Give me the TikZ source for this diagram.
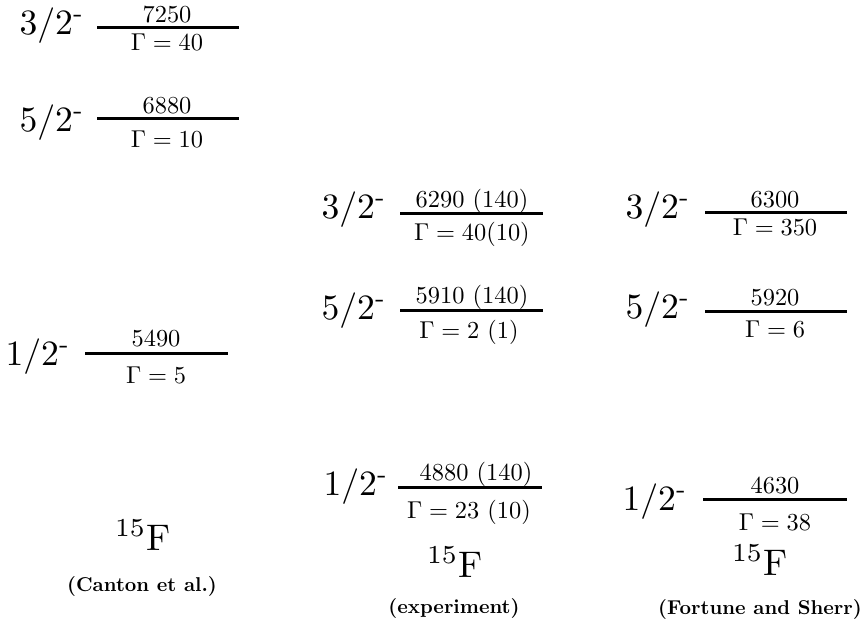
\documentclass[tikz,border=0pt]{standalone}
\newcommand{\spinlab}[1]{\scalebox{1.78}{$#1$\textsuperscript{\scriptsize -}}}
\newcommand{\vallab}[1]{\scalebox{1.22}{#1}}
\newcommand{\nuclab}{\scalebox{1.85}{$^{15}$F}}
\begin{document}
\begin{tikzpicture}[x=0.5pt,y=-0.5pt,
  lvl/.style={line width=1.5pt},
  jp/.style={inner sep=0pt, anchor=base},
  val/.style={inner sep=0pt, anchor=base},
  nuc/.style={inner sep=0pt, anchor=base},
  src/.style={font=\bfseries, inner sep=0pt, anchor=base}]
\useasboundingbox (0,0) rectangle (864,629);
% ---------- column 1 (Canton et al.)
\coordinate (a1l) at (97,27);  \coordinate (a1r) at (239,27);
\draw[lvl] (a1l) -- (a1r);
\node[jp]  (a1j) at (52,34)   {\spinlab{3/2}};
\node[val] (a1e) at (167,22)  {\vallab{7250}};
\node[val] (a1g) at (167,50)  {\vallab{$\Gamma = 40$}};
\coordinate (a2l) at (97,118); \coordinate (a2r) at (239,118);
\draw[lvl] (a2l) -- (a2r);
\node[jp]  (a2j) at (52,131)  {\spinlab{5/2}};
\node[val] (a2e) at (167,113) {\vallab{6880}};
\node[val] (a2g) at (167,147) {\vallab{$\Gamma = 10$}};
\coordinate (a3l) at (85,353); \coordinate (a3r) at (228,353);
\draw[lvl] (a3l) -- (a3r);
\node[jp]  (a3j) at (38,365)  {\spinlab{1/2}};
\node[val] (a3e) at (156,346) {\vallab{5490}};
\node[val] (a3g) at (156,383) {\vallab{$\Gamma = 5$}};
\node[nuc] (a4)  at (143,550) {\nuclab};
\node[src] (a5)  at (142,591) {(Canton et al.)};
% ---------- column 2 (experiment)
\coordinate (b1l) at (400,213); \coordinate (b1r) at (543,213);
\draw[lvl] (b1l) -- (b1r);
\node[jp]  (b1j) at (354,218) {\spinlab{3/2}};
\node[val] (b1e) at (472,207) {\vallab{6290 (140)}};
\node[val] (b1g) at (472,240) {\vallab{$\Gamma = 40(10)$}};
\coordinate (b2l) at (400,310); \coordinate (b2r) at (543,310);
\draw[lvl] (b2l) -- (b2r);
\node[jp]  (b2j) at (354,319) {\spinlab{5/2}};
\node[val] (b2e) at (472,303) {\vallab{5910 (140)}};
\node[val] (b2g) at (469,338) {\vallab{$\Gamma = 2$ (1)}};
\coordinate (b3l) at (398,487); \coordinate (b3r) at (542,487);
\draw[lvl] (b3l) -- (b3r);
\node[jp]  (b3j) at (356,495) {\spinlab{1/2}};
\node[val] (b3e) at (476,480) {\vallab{4880 (140)}};
\node[val] (b3g) at (469,518) {\vallab{$\Gamma = 23$ (10)}};
\node[nuc] (b4)  at (455,577) {\nuclab};
\node[src] (b5)  at (454,613) {(experiment)};
% ---------- column 3 (Fortune and Sherr)
\coordinate (c1l) at (705,212); \coordinate (c1r) at (847,212);
\draw[lvl] (c1l) -- (c1r);
\node[jp]  (c1j) at (658,218) {\spinlab{3/2}};
\node[val] (c1e) at (775,207) {\vallab{6300}};
\node[val] (c1g) at (775,235) {\vallab{$\Gamma = 350$}};
\coordinate (c2l) at (705,311); \coordinate (c2r) at (847,311);
\draw[lvl] (c2l) -- (c2r);
\node[jp]  (c2j) at (658,318) {\spinlab{5/2}};
\node[val] (c2e) at (775,305) {\vallab{5920}};
\node[val] (c2g) at (775,337) {\vallab{$\Gamma = 6$}};
\coordinate (c3l) at (703,499); \coordinate (c3r) at (847,499);
\draw[lvl] (c3l) -- (c3r);
\node[jp]  (c3j) at (655,510) {\spinlab{1/2}};
\node[val] (c3e) at (775,493) {\vallab{4630}};
\node[val] (c3g) at (775,530) {\vallab{$\Gamma = 38$}};
\node[nuc] (c4)  at (760,575) {\nuclab};
\node[src] (c5)  at (760,614) {(Fortune and Sherr)};
\end{tikzpicture}
\end{document}
